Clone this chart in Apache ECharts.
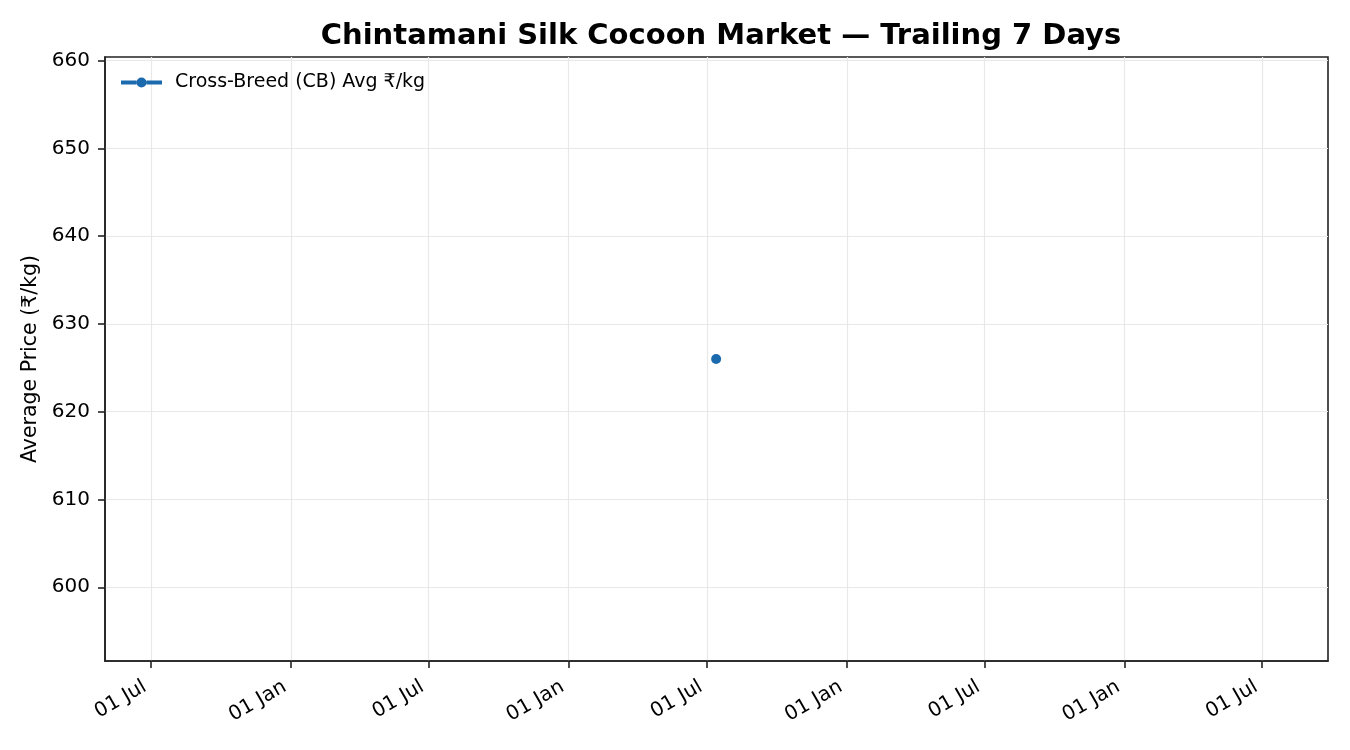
<!DOCTYPE html>
<html><head><meta charset="utf-8">
<script src="https://cdn.jsdelivr.net/npm/echarts@6/dist/echarts.min.js"></script>
<style>html,body{margin:0;padding:0;background:#fff}#c{width:1350px;height:750px}</style>
</head><body><div id="c"></div>
<script>
const dates = ['2024-07-13'];
const cbAvg = [626];
const xTickDates = ['2022-07-01','2023-01-01','2023-07-01','2024-01-01','2024-07-01','2025-01-01','2025-07-01','2026-01-01','2026-07-01'];
const yTicks = [600,610,620,630,640,650,660];
const xRange = ['2022-05-01T12:00:00Z','2026-09-25T12:00:00Z'];
const yRange = [591.6, 660.4];

const MON = ['Jan','Feb','Mar','Apr','May','Jun','Jul','Aug','Sep','Oct','Nov','Dec'];
const ts = s => Date.parse(s.length === 10 ? s + 'T00:00:00Z' : s);
const FONT = "'DejaVu Sans', sans-serif";
const BLUE = '#1b6aae';
const SPINE = '#222';
const GRID = '#e8e8e8';
const chart = echarts.init(document.getElementById('c'), null, {renderer:'canvas'});
chart.setOption({
  animation:false,
  textStyle:{fontFamily:FONT},
  title:{text:'Chintamani Silk Cocoon Market — Trailing 7 Days', left:716, top:17, textAlign:'center',
    textStyle:{fontFamily:FONT, fontWeight:'bold', fontSize:29, color:'#000'}},
  grid:{left:105, right:22, top:57, bottom:89, show:true, borderColor:SPINE, borderWidth:1.6, backgroundColor:'#fff'},
  legend:{left:116, top:68, itemWidth:41, itemHeight:10, itemGap:10,
    textStyle:{fontFamily:FONT, fontSize:19, color:'#000', padding:[0,0,0,8]},
    data:[{name:'Cross-Breed (CB) Avg ₹/kg',
      icon:'path://M0,3L15.5,3L15.5,7L0,7Z M25.5,3L41,3L41,7L25.5,7Z M15.5,5A5,5 0 1,0 25.5,5A5,5 0 1,0 15.5,5Z',
      itemStyle:{color:BLUE}}]},
  xAxis:{type:'value', min:ts(xRange[0]), max:ts(xRange[1]),
    axisLine:{show:true, lineStyle:{color:SPINE, width:1.6}},
    axisTick:{show:true, length:7, lineStyle:{color:SPINE, width:1.6}, customValues:xTickDates.map(ts)},
    axisLabel:{rotate:30, fontSize:20, color:'#000', fontFamily:FONT, margin:21, padding:[0,7,0,0], customValues:xTickDates.map(ts),
      formatter:v=>{const d=new Date(v); return String(d.getUTCDate()).padStart(2,'0')+' '+MON[d.getUTCMonth()];}},
    splitLine:{show:true, lineStyle:{color:GRID, width:1.2}}},
  yAxis:{type:'value', min:yRange[0], max:yRange[1],
    name:'Average Price (₹/kg)', nameLocation:'middle', nameGap:64, nameRotate:90,
    nameTextStyle:{fontFamily:FONT, fontSize:20.5, color:'#000'},
    axisLine:{show:true, lineStyle:{color:SPINE, width:1.6}},
    axisTick:{show:true, length:7, lineStyle:{color:SPINE, width:1.6}, customValues:yTicks},
    axisLabel:{fontSize:20, color:'#000', fontFamily:FONT, margin:15, customValues:yTicks},
    splitLine:{show:true, lineStyle:{color:GRID, width:1.2}}},
  series:[{name:'Cross-Breed (CB) Avg ₹/kg', type:'line', data:dates.map((d,i)=>[ts(d), cbAvg[i]]),
    symbol:'circle', symbolSize:10, itemStyle:{color:BLUE}, lineStyle:{color:BLUE, width:4}}]
});
</script></body></html>
